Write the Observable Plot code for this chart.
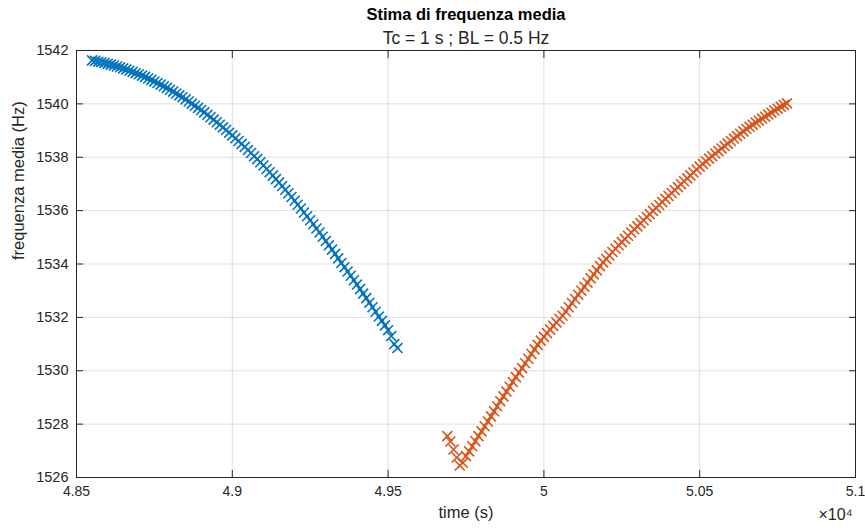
<!DOCTYPE html>
<html><head><meta charset="utf-8">
<script src="https://cdn.jsdelivr.net/npm/d3@7"></script>
<script src="https://cdn.jsdelivr.net/npm/@observablehq/plot@0.6"></script>
<style>
body{margin:0;background:#fff;}
svg text{font-family:"Liberation Sans",Arial,Helvetica,sans-serif;}
</style>
</head><body><div id="chart"></div>
<script>
const title = "Stima di frequenza media";
const subtitle = "Tc = 1 s ; BL = 0.5 Hz";
const xLabel = "time (s)";
const yLabel = "frequenza media (Hz)";
const xExponent = "×10⁴";
const xTicks = [48500, 49000, 49500, 50000, 50500, 51000];
const yTicks = [1526, 1528, 1530, 1532, 1534, 1536, 1538, 1540, 1542];
const colors = ["#0072BD", "#D95319"];

// series 1 (blue): sampled every 10 s starting at 48550 s
const series1Start = 48550, series1Step = 10;
const series1Freq = [
  1541.63,1541.61,1541.58,1541.56,1541.53,1541.50,1541.47,1541.44,1541.40,1541.37,
  1541.33,1541.29,1541.24,1541.20,1541.15,1541.11,1541.06,1541.01,1540.95,1540.90,
  1540.84,1540.78,1540.72,1540.66,1540.60,1540.53,1540.46,1540.39,1540.32,1540.25,
  1540.17,1540.09,1540.01,1539.93,1539.85,1539.77,1539.68,1539.59,1539.50,1539.41,
  1539.31,1539.22,1539.12,1539.02,1538.92,1538.82,1538.71,1538.61,1538.50,1538.39,
  1538.27,1538.16,1538.04,1537.93,1537.81,1537.69,1537.56,1537.44,1537.31,1537.18,
  1537.05,1536.92,1536.78,1536.65,1536.51,1536.37,1536.22,1536.08,1535.93,1535.79,
  1535.64,1535.49,1535.33,1535.18,1535.02,1534.86,1534.70,1534.54,1534.38,1534.21,
  1534.04,1533.88,1533.72,1533.56,1533.39,1533.23,1533.06,1532.89,1532.72,1532.55,
  1532.38,1532.21,1532.03,1531.87,1531.70,1531.52,1531.30,1531.00,1530.85
];

// series 2 (orange): sampled every 10 s starting at 49690 s
const series2Start = 49690, series2Step = 10;
const series2Freq = [
  1527.55,1527.35,1527.05,1526.75,1526.45,1526.55,1526.80,1526.98,1527.17,1527.36,
  1527.55,1527.73,1527.92,1528.10,1528.29,1528.48,1528.67,1528.86,1529.04,1529.22,
  1529.40,1529.58,1529.76,1529.93,1530.10,1530.28,1530.45,1530.63,1530.80,1530.97,
  1531.13,1531.27,1531.41,1531.54,1531.68,1531.81,1531.94,1532.06,1532.22,1532.38,
  1532.54,1532.69,1532.85,1533.00,1533.15,1533.30,1533.46,1533.61,1533.76,1533.92,
  1534.06,1534.19,1534.32,1534.45,1534.57,1534.70,1534.82,1534.94,1535.06,1535.18,
  1535.30,1535.41,1535.53,1535.64,1535.76,1535.87,1535.99,1536.10,1536.21,1536.32,
  1536.44,1536.55,1536.66,1536.77,1536.88,1536.99,1537.10,1537.21,1537.32,1537.43,
  1537.54,1537.65,1537.75,1537.85,1537.95,1538.04,1538.14,1538.23,1538.33,1538.42,
  1538.51,1538.61,1538.70,1538.79,1538.88,1538.97,1539.06,1539.14,1539.22,1539.30,
  1539.37,1539.45,1539.52,1539.60,1539.67,1539.75,1539.82,1539.89,1539.96,1540.02
];

const pts1 = series1Freq.map((f, i) => ({t: series1Start + i * series1Step, f}));
const pts2 = series2Freq.map((f, i) => ({t: series2Start + i * series2Step, f}));

const ink = "#262626";
const tick = 7;
const chart = Plot.plot({
  width: 865, height: 530,
  marginLeft: 76, marginRight: 10, marginTop: 50, marginBottom: 53,
  style: {fontFamily: "Liberation Sans, Arial, sans-serif", fontSize: "14px", color: ink, background: "#fff", overflow: "visible"},
  x: {domain: [48500, 51000], ticks: xTicks},
  y: {domain: [1526, 1542], ticks: yTicks},
  marks: [
    Plot.gridX(xTicks, {stroke: ink, strokeOpacity: 0.15}),
    Plot.gridY(yTicks, {stroke: ink, strokeOpacity: 0.15}),
    Plot.dot(pts1, {x: "t", y: "f", symbol: "times", r: 4.6, stroke: colors[0], strokeWidth: 1.6}),
    Plot.dot(pts2, {x: "t", y: "f", symbol: "times", r: 4.6, stroke: colors[1], strokeWidth: 1.6}),
    Plot.frame({stroke: ink, strokeWidth: 1}),
    Plot.axisX(xTicks, {anchor: "bottom", tickSize: 0, tickPadding: 9, fontSize: 14, label: null,
      tickFormat: d => String(+(d / 1e4).toFixed(2))}),
    Plot.axisX(xTicks, {anchor: "bottom", tickSize: tick, dy: -tick, tickFormat: () => "", label: null, stroke: ink}),
    Plot.axisX(xTicks, {anchor: "top", tickSize: tick, dy: tick, tickFormat: () => "", label: null, stroke: ink}),
    Plot.axisY(yTicks, {anchor: "left", tickSize: 0, tickPadding: 8, fontSize: 14.5, label: null,
      tickFormat: d => String(d)}),
    Plot.axisY(yTicks, {anchor: "left", tickSize: tick, dx: tick, tickFormat: () => "", label: null, stroke: ink}),
    Plot.axisY(yTicks, {anchor: "right", tickSize: tick, dx: -tick, tickFormat: () => "", label: null, stroke: ink}),
    Plot.text([title], {text: d => d, frameAnchor: "top", dy: -42, fontWeight: "bold", fontSize: 16.5, fill: "#000"}),
    Plot.text([subtitle], {text: d => d, frameAnchor: "top", dy: -19, fontSize: 17.5, fill: ink}),
    Plot.text([xLabel], {text: d => d, frameAnchor: "bottom", dy: 40, fontSize: 16.5, fill: ink}),
    Plot.text([xExponent], {text: d => d, frameAnchor: "bottom-right", textAnchor: "end", dy: 42, dx: -3, fontSize: 16, fill: ink}),
    Plot.text([yLabel], {text: d => d, frameAnchor: "left", dx: -58, dy: -4, rotate: -90, fontSize: 16.5, fill: ink})
  ]
});
document.getElementById("chart").appendChild(chart);
</script>
</body></html>
